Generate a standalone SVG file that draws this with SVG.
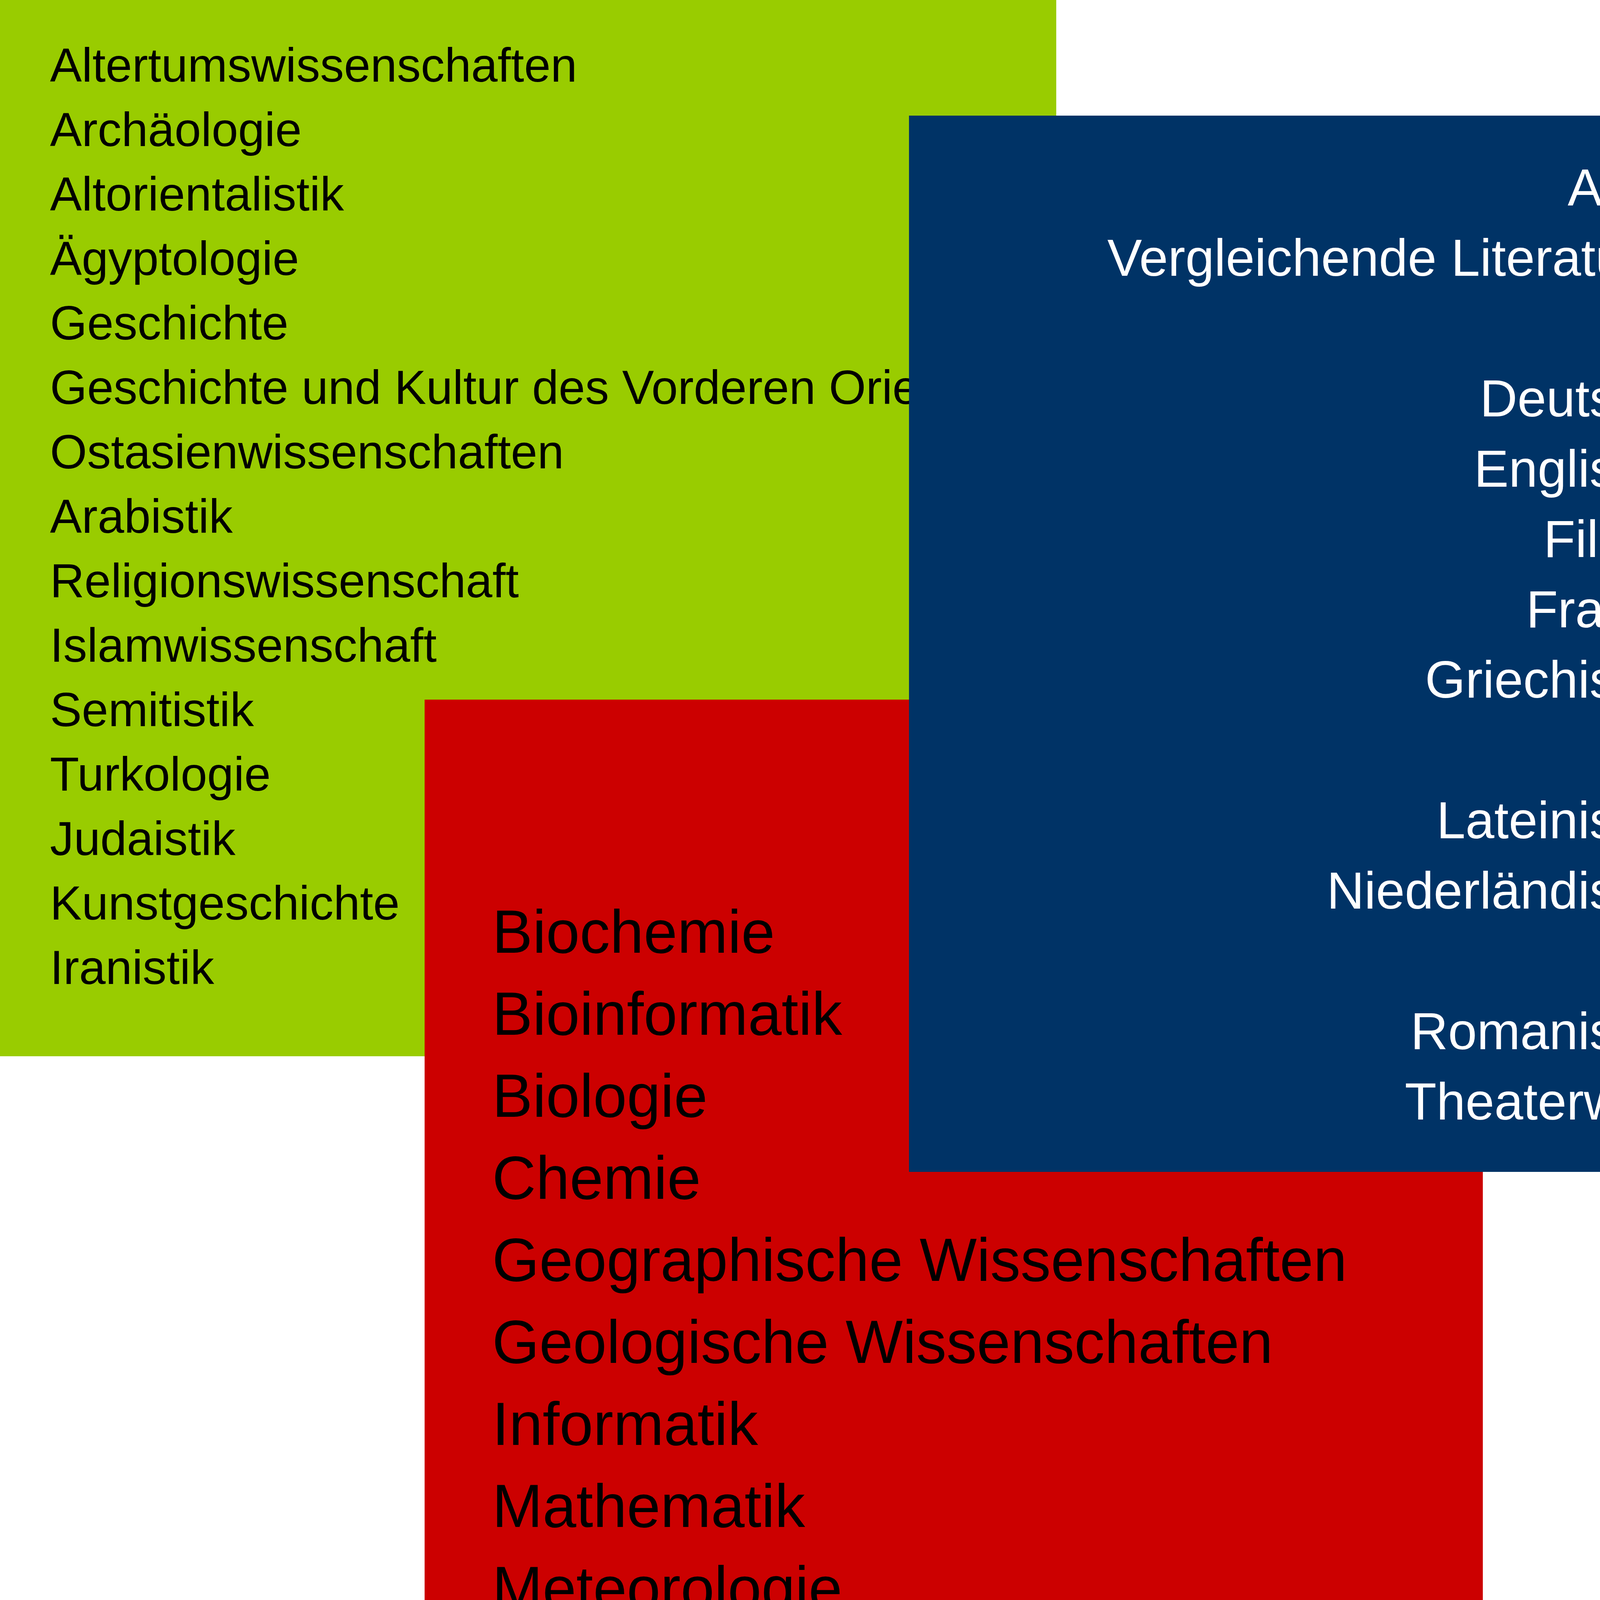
<svg xmlns="http://www.w3.org/2000/svg" width="8000" height="4595" viewBox="0 0 8000 4595">
<style>
text{font-family:"Liberation Sans","Open Sans",sans-serif}
.g{font-size:122px;fill:#000}
.b{font-size:133px;fill:#fff;text-anchor:end}
.r{font-size:155px;fill:#000}
.o{font-size:160px;fill:#000}
</style>
<rect width="8000" height="4595" fill="#fff"/>
<g id="green">
<rect x="0" y="0" width="2704" height="2704" fill="#99CC00"/>
<text class="g" x="128" y="209">Altertumswissenschaften</text>
<text class="g" x="128" y="374">Archäologie</text>
<text class="g" x="128" y="539">Altorientalistik</text>
<text class="g" x="128" y="704">Ägyptologie</text>
<text class="g" x="128" y="869">Geschichte</text>
<text class="g" x="128" y="1034">Geschichte und Kultur des Vorderen Orients</text>
<text class="g" x="128" y="1199">Ostasienwissenschaften</text>
<text class="g" x="128" y="1364">Arabistik</text>
<text class="g" x="128" y="1529">Religionswissenschaft</text>
<text class="g" x="128" y="1694">Islamwissenschaft</text>
<text class="g" x="128" y="1859">Semitistik</text>
<text class="g" x="128" y="2024">Turkologie</text>
<text class="g" x="128" y="2189">Judaistik</text>
<text class="g" x="128" y="2354">Kunstgeschichte</text>
<text class="g" x="128" y="2519">Iranistik</text>
</g>
<g id="red">
<rect x="1087" y="1791" width="2709" height="2709" fill="#CC0000"/>
<text class="r" x="1260" y="2439">Biochemie</text>
<text class="r" x="1260" y="2649">Bioinformatik</text>
<text class="r" x="1260" y="2859">Biologie</text>
<text class="r" x="1260" y="3069">Chemie</text>
<text class="r" x="1260" y="3279">Geographische Wissenschaften</text>
<text class="r" x="1260" y="3489">Geologische Wissenschaften</text>
<text class="r" x="1260" y="3699">Informatik</text>
<text class="r" x="1260" y="3909">Mathematik</text>
<text class="r" x="1260" y="4119">Meteorologie</text>
<text class="r" x="1260" y="4329">Physik</text>
</g>
<g id="blue">
<rect x="2327" y="296" width="2704" height="2704" fill="#003366"/>
<text class="b" x="4930" y="526">Allgemeine und</text>
<text class="b" x="4964" y="706">Vergleichende Literaturwissenschaft</text>
<text class="b" x="4964" y="886">Byzantinistik</text>
<text class="b" x="4964" y="1066">Deutsche Philologie</text>
<text class="b" x="4964" y="1246">Englische Philologie</text>
<text class="b" x="4964" y="1426">Filmwissenschaft</text>
<text class="b" x="4964" y="1606">Frankreichstudien</text>
<text class="b" x="4964" y="1786">Griechische Philologie</text>
<text class="b" x="4964" y="1966">Italienstudien</text>
<text class="b" x="4964" y="2146">Lateinische Philologie</text>
<text class="b" x="4964" y="2326">Niederländische Philologie</text>
<text class="b" x="4964" y="2506">Philosophie</text>
<text class="b" x="4964" y="2686">Romanische Philologie</text>
<text class="b" x="4964" y="2866">Theaterwissenschaften</text>
</g>
<g id="orange" transform="translate(5332,1372) rotate(9.87)">
<rect x="0" y="0" width="2708" height="2708" fill="#FF9900"/>
<text class="o" x="427" y="1100">Wahlfächer</text>
<text class="o" x="421" y="1568">Fremdsprachen</text>
<text class="o" x="416" y="1808">Schlüsselkompetenzen</text>
</g>
<g id="connectors"/>
</svg>
